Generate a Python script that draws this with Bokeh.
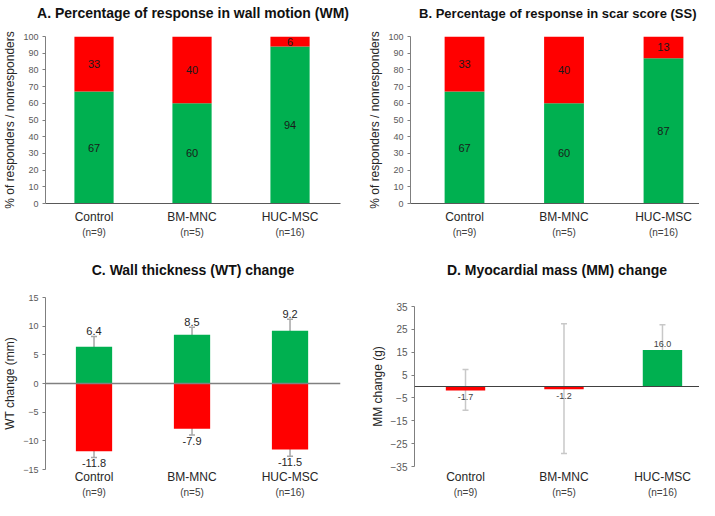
from bokeh.plotting import figure
from bokeh.models import (Range1d, FixedTicker, LinearAxis, Span, Whisker, ColumnDataSource,
                          TeeHead, Title)
from bokeh.layouts import column, row
from bokeh.embed import file_html
from bokeh.resources import INLINE

# ---------------- data ----------------
groups = ["Control", "BM-MNC", "HUC-MSC"]
n_labels = ["(n=9)", "(n=5)", "(n=16)"]

wm_resp = [67, 60, 94]
wm_nonresp = [33, 40, 6]

ss_resp = [67, 60, 87]
ss_nonresp = [33, 40, 13]

wt_pos = [6.4, 8.5, 9.2]
wt_pos_upper = [8.2, 9.8, 11.2]
wt_pos_lower = [5.4, 7.5, 8.3]
wt_neg = [-11.8, -7.9, -11.5]
wt_neg_upper = [-9.5, -6.6, -9.7]
wt_neg_lower = [-12.9, -9.0, -12.7]

mm_change = [-1.7, -1.2, 16.0]
mm_upper = [7.4, 27.5, 27.0]
mm_lower = [-10.4, -29.3, 5.6]

pct_ticks = [0, 10, 20, 30, 40, 50, 60, 70, 80, 90, 100]
wt_ticks = [-15, -10, -5, 0, 5, 10, 15]
mm_ticks = [-35, -25, -15, -5, 5, 15, 25, 35]

GREEN = "#00B050"
RED = "#FF0000"
FONT = "Liberation Sans"
xs = list(range(len(groups)))


def make_fig(title, width, height, left, right, top, bottom, xr, yr, yticks, ylabel,
             spacer, s1, tick_font="9px", title_size="14px", title_align="center",
             title_offset=0, axis_line=True):
    p = figure(width=width, height=height, output_backend="svg", toolbar_location=None,
               x_range=Range1d(*xr), y_range=Range1d(*yr),
               min_border_left=left, min_border_right=right,
               min_border_top=top, min_border_bottom=bottom)
    # blank gap between the plot frame and the title
    p.add_layout(Title(text=" ", text_font_size="1px", standoff=spacer), "above")
    p.title.text = title
    p.title.align = title_align
    p.title.offset = title_offset
    p.title.text_font = FONT
    p.title.text_font_size = title_size
    p.title.text_font_style = "bold"
    p.title.text_color = "#111111"
    p.title.standoff = 1
    p.outline_line_color = None
    p.xgrid.visible = False
    p.ygrid.visible = False
    p.background_fill_color = "white"
    p.border_fill_color = "white"

    ya = p.yaxis[0]
    ya.ticker = FixedTicker(ticks=yticks)
    ya.axis_label = ylabel
    ya.axis_label_text_font = FONT
    ya.axis_label_text_font_size = "12px"
    ya.axis_label_text_font_style = "normal"
    ya.axis_label_text_color = "#262626"
    ya.axis_label_standoff = 3
    ya.major_label_text_font = FONT
    ya.major_label_text_font_size = tick_font
    ya.major_label_text_color = "#595959"
    ya.major_label_standoff = 4
    ya.axis_line_color = "#7f7f7f"
    ya.major_tick_line_color = "#7f7f7f"
    ya.major_tick_out = 3
    ya.major_tick_in = 0
    ya.minor_tick_line_color = None

    xa = p.xaxis[0]
    xa.ticker = FixedTicker(ticks=xs)
    xa.major_label_overrides = {i: g for i, g in zip(xs, groups)}
    xa.major_label_text_font = FONT
    xa.major_label_text_font_size = "12px"
    xa.major_label_text_color = "#262626"
    xa.major_label_standoff = s1
    xa.major_tick_line_color = None
    xa.major_tick_out = 0
    xa.major_tick_in = 0
    xa.minor_tick_line_color = None
    xa.minor_tick_out = 0
    xa.axis_line_color = "#595959" if axis_line else None

    na = LinearAxis(ticker=FixedTicker(ticks=xs),
                    major_label_overrides={i: n for i, n in zip(xs, n_labels)})
    na.major_label_text_font = FONT
    na.major_label_text_font_size = "10px"
    na.major_label_text_color = "#404040"
    na.major_label_standoff = 0
    na.axis_line_color = None
    na.major_tick_line_color = None
    na.major_tick_out = 0
    na.major_tick_in = 0
    na.minor_tick_line_color = None
    na.minor_tick_out = 0
    p.add_layout(na, "below")
    return p


def stacked(title, resp, nonresp, width, left, right, xr, **kw):
    p = make_fig(title, width, 240, left, right, 36, 29, xr, (0, 100), pct_ticks,
                 "% of responders / nonresponders", 12, 6, **kw)
    tops = [r + n for r, n in zip(resp, nonresp)]
    p.vbar(x=xs, bottom=0, top=resp, width=0.40, fill_color=GREEN, line_color=None)
    p.vbar(x=xs, bottom=resp, top=tops, width=0.40, fill_color=RED, line_color=None)
    p.text(x=xs, y=[r / 2 for r in resp], text=[str(r) for r in resp],
           text_align="center", text_baseline="middle", text_font_size="11px",
           text_font={"value": FONT}, text_color="#1a1a1a")
    p.text(x=xs, y=[r + n / 2 for r, n in zip(resp, nonresp)], text=[str(n) for n in nonresp],
           text_align="center", text_baseline="middle", text_font_size="11px",
           text_font={"value": FONT}, text_color="#1a1a1a")
    return p


pA = stacked("A. Percentage of response in wall motion (WM)", wm_resp, wm_nonresp,
             355, 42, 15, (-0.495, 2.515))
pB = stacked("B. Percentage of response in scar score (SS)", ss_resp, ss_nonresp,
             344, 55, 0, (-0.543, 2.362), title_size="13px", title_align="right",
             title_offset=3)

# ---------------- C ----------------
pC = make_fig("C. Wall thickness (WT) change", 355, 260, 42, 15, 57, 23,
              (-0.495, 2.515), (-15, 15), wt_ticks, "WT change (mm)",
              16, 0, axis_line=False)
pC.vbar(x=xs, bottom=0, top=wt_pos, width=0.37, fill_color=GREEN, line_color=None)
pC.vbar(x=xs, bottom=0, top=wt_neg, width=0.37, fill_color=RED, line_color=None)
for up, lo in ((wt_pos_upper, wt_pos_lower), (wt_neg_upper, wt_neg_lower)):
    src = ColumnDataSource(dict(x=xs, upper=up, lower=lo))
    pC.add_layout(Whisker(source=src, base="x", upper="upper", lower="lower",
                          line_color="#a6a6a6", line_width=1.5,
                          upper_head=TeeHead(size=6, line_color="#a6a6a6", line_width=1.5),
                          lower_head=TeeHead(size=6, line_color="#a6a6a6", line_width=1.5)))
pC.add_layout(Span(location=0, dimension="width", line_color="#808080", line_width=1.5))
pC.text(x=xs, y=wt_pos_upper, text=[f"{v:.1f}" for v in wt_pos], text_align="center",
        text_baseline="bottom", y_offset=-1, text_font_size="11px",
        text_font={"value": FONT}, text_color="#262626")
pC.text(x=xs, y=wt_neg_lower, text=[f"{v:.1f}" for v in wt_neg], text_align="center",
        text_baseline="top", y_offset=2, text_font_size="11px",
        text_font={"value": FONT}, text_color="#262626")

# ---------------- D ----------------
pD = make_fig("D. Myocardial mass (MM) change", 344, 260, 59, 0, 66, 27,
              (-0.518, 2.376), (-35, 35), mm_ticks, "MM change (g)",
              25, 3, tick_font="10px", axis_line=False)
mm_colors = [GREEN if v > 0 else RED for v in mm_change]
pD.vbar(x=xs, bottom=0, top=mm_change, width=0.40, fill_color=mm_colors, line_color=None)
srcD = ColumnDataSource(dict(x=xs, upper=mm_upper, lower=mm_lower))
pD.add_layout(Whisker(source=srcD, base="x", upper="upper", lower="lower",
                      line_color="#c8c8c8", line_width=1.5,
                      upper_head=TeeHead(size=6, line_color="#c8c8c8", line_width=1.5),
                      lower_head=TeeHead(size=6, line_color="#c8c8c8", line_width=1.5)))
pD.add_layout(Span(location=0, dimension="width", line_color="#404040", line_width=1.2))
pos_i = [i for i, v in enumerate(mm_change) if v > 0]
neg_i = [i for i, v in enumerate(mm_change) if v <= 0]
pD.text(x=[xs[i] for i in pos_i], y=[mm_change[i] for i in pos_i],
        text=[f"{mm_change[i]:.1f}" for i in pos_i], text_align="center",
        text_baseline="bottom", y_offset=-3, text_font_size="9px",
        text_font={"value": FONT}, text_color="#404040")
pD.text(x=[xs[i] for i in neg_i], y=[mm_change[i] for i in neg_i],
        text=[f"{mm_change[i]:.1f}" for i in neg_i], text_align="center",
        text_baseline="top", y_offset=4, text_font_size="9px",
        text_font={"value": FONT}, text_color="#404040")

layout = column(row(pA, pB), row(column(pC), column(pD)))
open("out.html", "w").write(file_html(layout, INLINE))
